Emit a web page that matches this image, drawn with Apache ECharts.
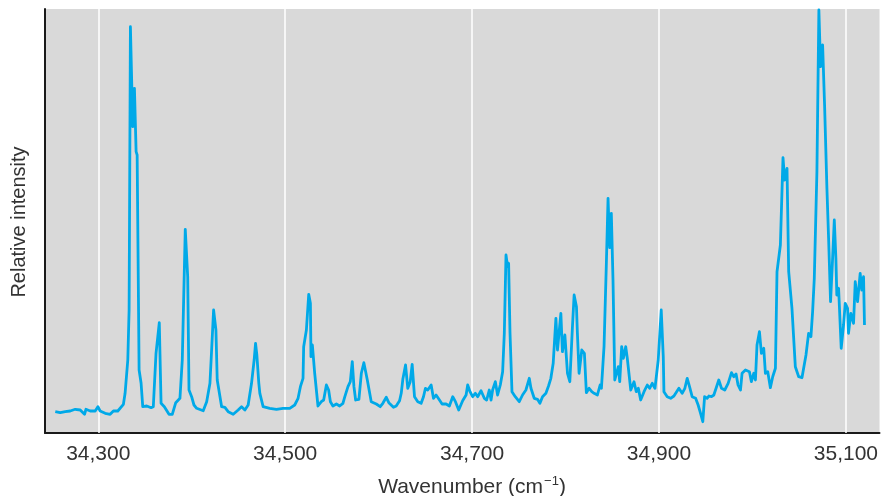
<!DOCTYPE html>
<html>
<head>
<meta charset="utf-8">
<script src="https://cdn.jsdelivr.net/npm/echarts@6/dist/echarts.min.js"></script>
<style>html,body{margin:0;padding:0;background:#fff}#c{width:881px;height:496px}</style>
</head>
<body>
<div id="c"></div>
<script>
const tickLabels = [34300, 34500, 34700, 34900, 35100];
const wavenumber = [
34254.0,34259.3,34264.7,34270.0,34275.3,34280.7,34285.3,34286.8,34291.4,34296.7,34299.6,34302.0,34307.4,34312.7,34316.2,34320.9,34326.9,34328.7,34331.6,34333.0,
34334.4,34336.9,34338.7,34340.5,34341.6,34343.7,34345.8,34347.6,34351.9,34356.5,34358.9,34361.8,34365.3,34367.2,34370.7,34375.7,34379.2,34382.9,34387.4,34389.9,
34393.1,34395.7,34397.1,34399.9,34402.4,34405.3,34412.3,34416.0,34419.5,34421.3,34423.4,34425.9,34427.3,34432.0,34435.5,34439.0,34444.4,34449.7,34453.3,34456.9,
34460.4,34464.0,34466.8,34468.3,34469.7,34471.1,34471.8,34472.9,34474.7,34476.4,34483.5,34490.7,34497.7,34504.9,34510.2,34513.8,34516.3,34519.1,34519.8,34522.7,
34525.2,34527.0,34527.6,34529.1,34531.6,34535.1,34538.7,34541.2,34544.1,34546.5,34548.4,34551.1,34554.8,34558.3,34561.8,34563.6,34567.2,34569.7,34571.8,34573.6,
34575.4,34578.9,34581.5,34584.2,34587.9,34592.1,34597.5,34601.7,34604.5,34608.2,34610.9,34615.9,34618.8,34622.4,34624.2,34625.9,34628.8,34631.2,34633.8,34635.9,
34638.4,34641.9,34645.5,34648.0,34650.1,34652.6,34656.2,34658.7,34661.5,34665.1,34667.9,34672.2,34675.7,34679.3,34682.2,34685.7,34689.9,34693.6,34695.3,34697.8,
34700.6,34703.5,34706.0,34709.6,34713.1,34715.6,34718.4,34720.3,34722.0,34724.9,34727.3,34730.2,34732.7,34734.5,34736.3,34738.0,34739.1,34740.6,34742.7,34746.2,
34750.5,34754.0,34757.6,34761.2,34763.0,34766.5,34770.0,34772.6,34775.4,34779.0,34781.8,34784.3,34786.8,34789.7,34791.4,34795.0,34796.7,34799.3,34802.1,34804.6,
34807.4,34809.2,34811.7,34812.7,34814.5,34817.4,34820.2,34822.3,34825.2,34828.1,34830.6,34834.1,34837.0,34838.4,34841.2,34843.7,34845.5,34847.3,34849.0,34850.8,
34852.7,34854.4,34856.5,34858.0,34860.1,34861.9,34864.4,34866.1,34869.8,34873.3,34875.7,34877.9,34880.4,34884.0,34887.5,34890.0,34892.8,34895.7,34899.2,34902.4,
34904.6,34905.3,34908.8,34912.5,34916.0,34921.3,34924.8,34927.7,34930.2,34932.7,34935.5,34939.2,34941.9,34944.5,34946.9,34948.8,34951.5,34953.4,34956.2,34958.7,
34961.1,34964.0,34966.9,34970.4,34974.0,34977.6,34980.1,34982.5,34984.6,34987.2,34988.9,34992.5,34994.2,34996.8,34998.9,35001.4,35003.2,35004.9,35007.5,35009.6,
35012.1,35013.9,35016.4,35019.2,35021.7,35024.6,35026.3,35029.9,35032.7,35034.5,35037.0,35038.8,35042.3,35045.9,35049.5,35053.0,35057.3,35060.1,35062.6,35064.4,
35066.2,35069.0,35071.1,35072.9,35075.1,35077.2,35079.7,35081.5,35083.6,35085.8,35087.6,35089.3,35090.3,35092.2,35095.0,35097.5,35099.3,35101.8,35102.8,35105.3,
35108.2,35110.0,35112.5,35115.3,35117.0,35118.9,35119.9
];
const intensity = [
21.3,20.3,21.3,22.0,23.7,23.0,18.7,23.7,22.0,22.0,26.3,22.0,19.7,18.7,22.0,22.0,28.7,39.7,73.0,123.0,
406.3,306.3,344.7,281.3,278.0,63.0,50.0,26.3,27.0,25.3,26.3,79.7,110.3,29.7,26.3,18.7,18.7,30.3,34.7,73.0,
203.7,156.3,43.0,36.3,28.0,24.7,22.3,31.3,49.7,83.0,123.0,103.0,53.0,26.3,25.7,21.3,18.7,23.0,26.3,23.0,
28.0,49.7,73.0,89.7,78.0,78.0,49.7,39.7,38.0,26.3,24.7,23.7,24.7,24.7,28.0,34.7,46.3,54.7,86.3,103.0,
138.7,129.7,76.3,88.0,59.7,27.0,31.3,33.0,48.0,43.0,31.3,27.0,29.0,27.0,29.7,35.7,46.3,51.3,71.3,46.3,
33.0,33.7,59.7,70.3,53.0,31.3,29.0,26.3,29.7,35.7,30.3,25.7,27.0,32.3,39.7,53.7,68.0,44.7,51.3,68.7,
36.3,31.3,29.7,36.3,44.7,43.0,48.0,34.7,38.0,33.0,29.0,29.0,27.0,36.3,31.3,23.0,32.3,38.0,48.0,41.3,
36.3,39.7,36.3,42.3,34.7,33.0,43.0,33.0,43.0,51.3,38.0,48.0,61.3,99.7,178.0,166.3,169.7,99.7,41.3,36.3,
31.3,38.0,43.0,54.7,44.7,34.7,33.7,29.7,36.3,39.7,47.0,54.7,69.7,114.7,83.0,119.7,81.3,98.0,59.7,51.3,
106.3,138.0,126.3,99.7,59.7,83.0,79.7,40.3,44.7,41.3,39.7,38.0,48.0,44.7,86.3,169.7,234.7,185.3,219.7,153.0,
53.0,54.7,66.3,51.3,86.3,74.7,86.3,74.7,43.0,51.3,41.3,44.7,33.0,41.3,48.0,44.7,49.7,44.7,73.0,123.0,
76.3,41.3,36.3,34.7,37.0,44.7,39.7,44.7,54.7,46.3,36.3,34.7,28.0,19.7,11.3,36.3,34.7,37.0,36.3,38.0,
44.7,53.0,44.7,43.0,49.7,60.3,56.3,59.0,48.0,43.0,59.7,63.0,64.7,61.3,51.3,59.7,53.0,88.0,101.3,79.7,
84.7,59.7,61.3,45.3,56.3,64.7,161.3,188.0,275.3,253.0,264.7,161.3,124.7,66.3,56.3,55.3,78.0,99.7,96.3,121.3,
154.7,261.3,423.0,366.3,388.0,328.0,244.7,194.7,131.3,174.7,213.0,174.7,138.0,144.7,84.7,108.0,129.7,124.7,99.7,119.7,
109.7,151.3,131.3,159.7,143.0,156.3,108.0
];
const xMin = 34243, xMax = 35136, yMax = 424;

const chart = echarts.init(document.getElementById('c'), null, {renderer: 'canvas'});
const data = wavenumber.map((w, i) => [w, intensity[i]]);
const fmt = v => String(v).replace(/(\d)(?=(\d{3})+$)/, '$1,');
const font = '"Liberation Sans", Arial, Helvetica, sans-serif';
chart.setOption({
  animation: false,
  grid: {left: 45, right: 0, top: 9, bottom: 63, show: true, backgroundColor: '#d9d9d9', borderWidth: 0},
  xAxis: {
    type: 'value', min: xMin, max: xMax,
    axisLine: {show: true, onZero: false, lineStyle: {color: '#1a1a1a', width: 2}},
    axisTick: {show: false, customValues: tickLabels},
    splitLine: {show: false},
    axisLabel: {customValues: tickLabels, formatter: fmt, color: '#333333', fontSize: 21, fontFamily: font, margin: 11}
  },
  yAxis: {
    type: 'value', min: 0, max: yMax,
    axisLine: {show: true, lineStyle: {color: '#1a1a1a', width: 2}},
    axisTick: {show: false}, axisLabel: {show: false}, splitLine: {show: false}
  },
  series: [{
    type: 'line', data: data, showSymbol: false, smooth: false,
    lineStyle: {color: '#00a9e8', width: 2.8, join: 'round'},
    z: 3,
    markLine: {
      silent: true, symbol: 'none', label: {show: false}, z: 1,
      lineStyle: {color: '#ffffff', width: 1.5, type: 'solid'},
      data: tickLabels.map(v => ({xAxis: v}))
    }
  }],
  graphic: [
    {type: 'text', x: 472, y: 475, style: {
      text: 'Wavenumber (cm{sup|−1})', fill: '#333333', font: '21px ' + font, align: 'center', verticalAlign: 'top',
      rich: {sup: {fontSize: 13, verticalAlign: 'top', padding: [0, 0, 11, 1], fill: '#333333', fontFamily: font}}
    }},
    {type: 'text', x: 9, y: 222, rotation: Math.PI / 2, style: {
      text: 'Relative intensity', fill: '#333333', font: '20px ' + font, align: 'center', verticalAlign: 'top'
    }}
  ]
});
</script>
</body>
</html>
